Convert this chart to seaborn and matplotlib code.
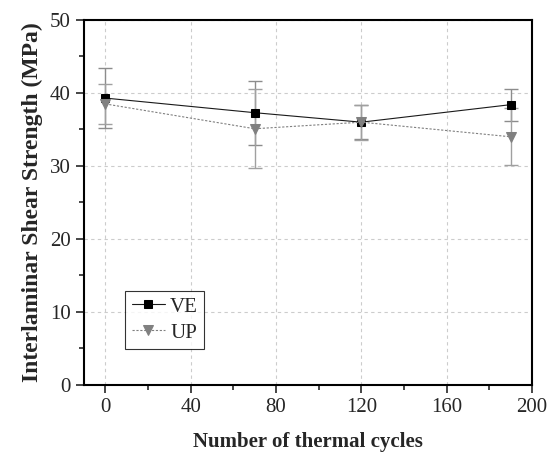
import matplotlib
matplotlib.use("Agg")
import matplotlib.pyplot as plt
import seaborn as sns
import pandas as pd
from matplotlib.ticker import MultipleLocator

# Data
cycles = [0, 70, 120, 190]
ve_mean = [39.3, 37.3, 36.0, 38.4]
ve_err = [4.1, 4.4, 2.3, 2.2]
up_mean = [38.5, 35.1, 36.0, 34.0]
up_err = [2.7, 5.4, 2.4, 3.9]

df = pd.DataFrame({
    "cycles": cycles * 2,
    "ilss": ve_mean + up_mean,
    "err": ve_err + up_err,
    "series": ["VE"] * len(cycles) + ["UP"] * len(cycles),
})

sns.set_style("white")
plt.rcParams["font.family"] = ["Liberation Serif", "DejaVu Serif"]

fig = plt.figure(figsize=(5.53, 4.54), dpi=100)
ax = fig.add_axes([0.152, 0.152, 0.81, 0.804])

# error bars first (gray, under the markers)
for name, color in [("VE", "#8c8c8c"), ("UP", "#a0a0a0")]:
    sub = df[df["series"] == name]
    ax.errorbar(sub["cycles"], sub["ilss"], yerr=sub["err"], fmt="none",
                ecolor=color, elinewidth=1.0, capsize=5, capthick=1.0, zorder=2)

styles = {"VE": dict(color="#1a1a1a", ls="-", marker="s", mc="black", ms=6),
          "UP": dict(color="#808080", ls=(0, (2, 1.5)), marker="v", mc="#808080", ms=7.5)}

for name in ["VE", "UP"]:
    st = styles[name]
    sub = df[df["series"] == name]
    sns.lineplot(data=sub, x="cycles", y="ilss", ax=ax, color=st["color"],
                 linestyle=st["ls"], linewidth=0.8, marker=st["marker"],
                 markersize=st["ms"],
                 markerfacecolor=st["mc"], markeredgecolor=st["mc"],
                 label=name, zorder=3)

ax.set_xlim(-10, 200)
ax.set_ylim(0, 50)
ax.xaxis.set_major_locator(MultipleLocator(40))
ax.xaxis.set_minor_locator(MultipleLocator(20))
ax.yaxis.set_major_locator(MultipleLocator(10))
ax.yaxis.set_minor_locator(MultipleLocator(5))

ax.tick_params(which="major", direction="out", length=6, width=1.2,
               labelsize=15, bottom=True, left=True, top=False, right=False)
ax.tick_params(which="minor", direction="out", length=3.5, width=1.2,
               bottom=True, left=True, top=False, right=False)

ax.grid(True, which="major", color="#cccccc", linestyle=(0, (3, 3)), linewidth=0.8)
for sp in ax.spines.values():
    sp.set_color("black")
    sp.set_linewidth(1.5)

ax.set_xlabel("Number of thermal cycles", fontsize=15, fontweight="bold", labelpad=11)
ax.set_ylabel("Interlaminar Shear Strength (MPa)", fontsize=17, fontweight="bold", labelpad=5)

leg = ax.legend(loc="lower left", bbox_to_anchor=(0.092, 0.099), borderaxespad=0,
                fontsize=15, frameon=True, fancybox=False, edgecolor="black",
                handlelength=1.6, borderpad=0.3, labelspacing=0.3, handletextpad=0.25)
leg.get_frame().set_linewidth(0.8)

fig.savefig("out.png", dpi=100)
